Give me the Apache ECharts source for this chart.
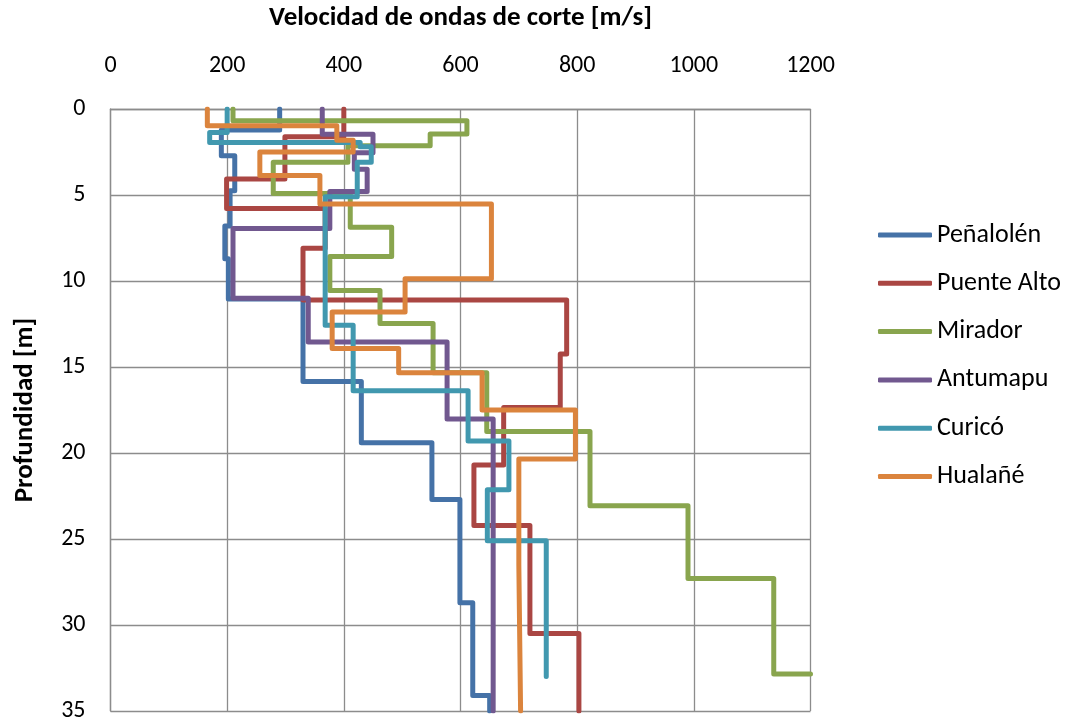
<!DOCTYPE html>
<html>
<head>
<meta charset="utf-8">
<script src="https://cdn.jsdelivr.net/npm/echarts@6/dist/echarts.min.js"></script>
<style>
html,body{margin:0;padding:0;background:#fff;}
#chart{width:1070px;height:723px;}
</style>
</head>
<body>
<div id="chart"></div>
<script>
// Layer velocities [m/s] and layer boundary depths [m] for each site
const seriesNames = ['Peñalolén', 'Puente Alto', 'Mirador', 'Antumapu', 'Curicó', 'Hualañé'];

const penalolenVs    = [290, 190, 213, 205, 196, 202, 330, 430, 551, 599, 621, 650];
const penalolenDepth = [0, 1.22, 2.72, 4.75, 6.8, 8.7, 11.05, 15.85, 19.4, 22.7, 28.7, 34.1, 35];

const puenteAltoVs    = [400, 299, 199, 368, 330, 782, 771, 674, 623, 719, 803];
const puenteAltoDepth = [0, 1.62, 4.07, 5.78, 8.1, 11.1, 14.25, 17.35, 20.7, 24.22, 30.5, 35];

const miradorVs    = [210, 611, 548, 407, 279, 411, 482, 376, 462, 553, 645, 822, 990, 1137, 1200];
const miradorDepth = [0, 0.69, 1.45, 2.14, 3.1, 4.92, 6.88, 8.57, 10.55, 12.47, 15.33, 18.75, 23.06, 27.3, 32.85, 32.85];

const antumapuVs    = [363, 450, 418, 440, 376, 210, 339, 577, 656];
const antumapuDepth = [0, 1.47, 2.55, 3.5, 4.79, 6.95, 11.0, 13.54, 18.02, 35];

const curicoVs    = [200, 170, 428, 447, 423, 368, 416, 613, 683, 646, 747];
const curicoDepth = [0, 1.37, 1.95, 2.2, 3.1, 5.1, 12.57, 16.38, 19.3, 22.13, 25.1, 33.0];

const hualaneVs    = [166, 388, 416, 256, 359, 653, 505, 380, 494, 637, 797, 700, 703];
const hualaneDepth = [0, 0.98, 1.81, 2.5, 3.86, 5.52, 9.87, 11.8, 13.93, 15.33, 17.5, 20.35, 26.5, 35];

const xTicks = [0, 200, 400, 600, 800, 1000, 1200];
const yTicks = [0, 5, 10, 15, 20, 25, 30, 35];

const colors = ['#4572A7', '#AA4643', '#89A54E', '#71588F', '#4198AF', '#DB843D'];

function stepPoints(vs, depths) {
  const pts = [];
  for (let i = 0; i < vs.length; i++) {
    pts.push([vs[i], depths[i]]);
    pts.push([vs[i], depths[i + 1]]);
  }
  return pts;
}

const profiles = [
  [penalolenVs, penalolenDepth],
  [puenteAltoVs, puenteAltoDepth],
  [miradorVs, miradorDepth],
  [antumapuVs, antumapuDepth],
  [curicoVs, curicoDepth],
  [hualaneVs, hualaneDepth]
];

const FONT = 'Carlito, Calibri, Lato, sans-serif';
const chart = echarts.init(document.getElementById('chart'), null, {renderer: 'canvas'});

chart.setOption({
  animation: false,
  color: colors,
  grid: {left: 110.5, right: 259.5, top: 108.3, bottom: 11.3, containLabel: false},
  xAxis: {
    type: 'value',
    position: 'top',
    min: xTicks[0],
    max: xTicks[xTicks.length - 1],
    interval: 200,
    name: 'Velocidad de ondas de corte [m/s]',
    nameLocation: 'middle',
    nameGap: 77,
    nameTextStyle: {fontFamily: FONT, fontWeight: 'bold', fontSize: 27, color: '#000'},
    axisLine: {show: true, lineStyle: {color: '#8c8c8c', width: 1.3}},
    axisTick: {show: false},
    axisLabel: {margin: 31, fontFamily: FONT, fontSize: 24, color: '#000', formatter: v => String(v)},
    splitLine: {show: true, lineStyle: {color: '#8c8c8c', width: 1.3}}
  },
  yAxis: {
    type: 'value',
    inverse: true,
    min: yTicks[0],
    max: yTicks[yTicks.length - 1],
    interval: 5,
    name: 'Profundidad [m]',
    nameLocation: 'middle',
    nameRotate: 90,
    nameGap: 72,
    nameTextStyle: {fontFamily: FONT, fontWeight: 'bold', fontSize: 27, color: '#000'},
    axisLine: {show: true, lineStyle: {color: '#8c8c8c', width: 1.3}},
    axisTick: {show: false},
    axisLabel: {margin: 25, fontFamily: FONT, fontSize: 24, color: '#000', formatter: v => String(v)},
    splitLine: {show: true, lineStyle: {color: '#8c8c8c', width: 1.3}}
  },
  legend: {
    orient: 'vertical',
    left: 878,
    top: 222,
    padding: 0,
    itemWidth: 54,
    itemHeight: 5,
    itemGap: 22.3,
    icon: 'roundRect',
    textStyle: {fontFamily: FONT, fontSize: 26, lineHeight: 26, color: '#000'},
    data: seriesNames
  },
  series: profiles.map((p, i) => ({
    name: seriesNames[i],
    type: 'line',
    data: stepPoints(p[0], p[1]),
    showSymbol: false,
    symbol: 'none',
    clip: true,
    lineStyle: {width: 5, color: colors[i], join: 'round', cap: 'round'},
    itemStyle: {color: colors[i]}
  }))
});
</script>
</body>
</html>
